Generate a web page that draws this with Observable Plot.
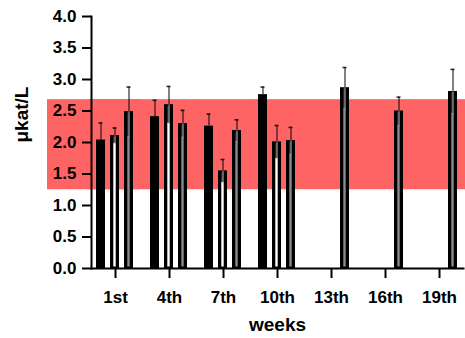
<!DOCTYPE html>
<html>
<head>
<meta charset="utf-8">
<script src="https://cdn.jsdelivr.net/npm/d3@7"></script>
<script src="https://cdn.jsdelivr.net/npm/@observablehq/plot@0.6"></script>
<style>
  html, body { margin: 0; padding: 0; background: #fff; overflow: hidden; }
  #chart svg { display: block; }
</style>
</head>
<body>
<div id="chart"></div>
<script>
// ---- data ----
const weeks = ["1st", "4th", "7th", "10th", "13th", "16th", "19th"];
const seriesNames = ["S1", "S2", "S3"];
const meanS1 = [2.04, 2.41, 2.26, 2.76, null, null, null];
const sdS1   = [0.27, 0.26, 0.19, 0.12, null, null, null];
const meanS2 = [2.11, 2.60, 1.55, 2.01, null, null, null];
const sdS2   = [0.12, 0.29, 0.18, 0.26, null, null, null];
const meanS3 = [2.49, 2.30, 2.19, 2.03, 2.87, 2.50, 2.81];
const sdS3   = [0.39, 0.21, 0.17, 0.21, 0.32, 0.22, 0.35];
const refLow = 1.25;
const refHigh = 2.68;
const yTicks = [0, 0.5, 1, 1.5, 2, 2.5, 3, 3.5, 4];
const yLabel = "μkat/L";
const xLabel = "weeks";

// ---- table built from the arrays ----
const means = [meanS1, meanS2, meanS3];
const sds = [sdS1, sdS2, sdS3];
const rows = [];
seriesNames.forEach((s, si) => {
  weeks.forEach((w, wi) => {
    if (means[si][wi] != null) rows.push({week: w, series: s, mean: means[si][wi], sd: sds[si][wi]});
  });
});
const rowsS2 = rows.filter(d => d.series === "S2");
const rowsS3 = rows.filter(d => d.series === "S3");
const rowsHollow = rows.filter(d => d.series !== "S1");
const weekRows = weeks.map(w => ({week: w, lo: refLow, hi: refHigh}));
const firstWeek = weekRows.slice(0, 1);

const chart = Plot.plot({
  width: 465,
  height: 338,
  marginTop: 16,
  marginBottom: 70,
  marginLeft: 89,
  marginRight: 0,
  style: {fontFamily: "Arial, 'Liberation Sans', sans-serif", fontWeight: "bold", fontSize: "17px", color: "#000", background: "#fff"},
  fx: {domain: weeks, paddingInner: 0.107, paddingOuter: 0},
  x: {domain: seriesNames, paddingInner: 0.34, paddingOuter: 0.327, axis: null},
  y: {domain: [0, 4]},
  marks: [
    // reference band
    Plot.rect(weekRows, {fx: "week", y1: "lo", y2: "hi", fill: "#ff6464", insetLeft: -3.2, insetRight: -3.2}),
    Plot.rect(firstWeek, {fx: "week", y1: "lo", y2: "hi", fill: "#ff6464", insetLeft: -44}),
    // bars
    Plot.barY(rows, {fx: "week", x: "series", y: "mean", fill: "#000"}),
    Plot.barY(rowsS2, {fx: "week", x: "series", y1: 0, y2: d => d.mean - d.sd, fill: "#fff", insetLeft: 3.3, insetRight: 3.3, insetBottom: 1.5}),
    Plot.barY(rowsS3, {fx: "week", x: "series", y1: 0, y2: d => d.mean - d.sd, fill: "#8a8a8a", insetLeft: 3.3, insetRight: 3.3, insetBottom: 1.5}),
    Plot.barY(rowsHollow, {fx: "week", x: "series", y1: d => d.mean - d.sd, y2: "mean", fill: "#3a3a3a", insetLeft: 3.3, insetRight: 3.3, insetTop: 1.5}),
    Plot.ruleX(rowsHollow, {fx: "week", x: "series", y1: d => d.mean - d.sd, y2: "mean", stroke: "#9a9a9a", strokeWidth: 1, insetTop: 1.5}),
    // error bars
    Plot.ruleX(rows, {fx: "week", x: "series", y1: "mean", y2: d => d.mean + d.sd, stroke: "#000", strokeOpacity: 0.7, strokeWidth: 1.4}),
    Plot.tickY(rows, {fx: "week", x: "series", y: d => d.mean + d.sd, stroke: "#000", strokeOpacity: 0.8, strokeWidth: 1.6, insetLeft: 2.5, insetRight: 2.5}),
    // axis lines
    Plot.frame({anchor: "bottom", facet: "super", stroke: "#000", strokeWidth: 2}),
    Plot.frame({anchor: "left", facet: "super", stroke: "#000", strokeWidth: 2}),
    Plot.axisY({ticks: yTicks, tickFormat: d3.format(".1f"), tickSize: 9, tickPadding: 6, strokeWidth: 2, label: null, fontSize: 17}),
    Plot.axisFx({anchor: "bottom", tickSize: 10, tickPadding: 12, strokeWidth: 2, label: null, fontSize: 17}),
    Plot.text([yLabel], {facet: "super", frameAnchor: "left", rotate: -90, dx: -70, fontSize: 19, fontWeight: "bold"}),
    Plot.text([xLabel], {facet: "super", frameAnchor: "bottom", dy: 62, fontSize: 19, fontWeight: "bold"})
  ]
});
document.getElementById("chart").appendChild(chart);
</script>
</body>
</html>
